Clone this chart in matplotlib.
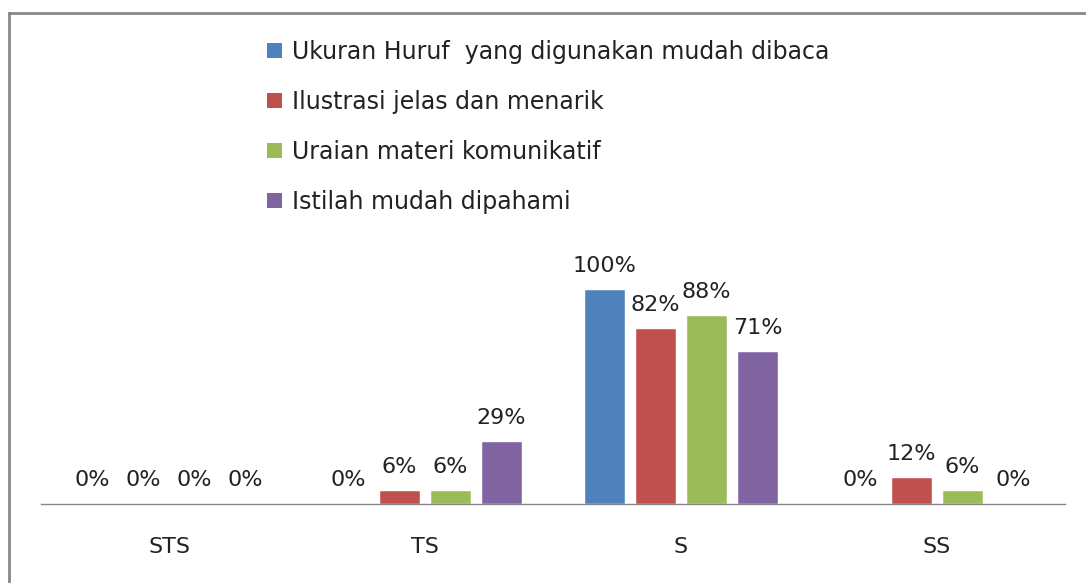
import matplotlib
matplotlib.use("Agg")
import matplotlib.pyplot as plt
from matplotlib.lines import Line2D
from matplotlib.patches import Patch
import numpy as np

categories = ["STS", "TS", "S", "SS"]
series_names = [
    "Ukuran Huruf  yang digunakan mudah dibaca",
    "Ilustrasi jelas dan menarik",
    "Uraian materi komunikatif",
    "Istilah mudah dipahami",
]
ukuran = [0, 0, 100, 0]
ilustrasi = [0, 6, 82, 12]
uraian = [0, 6, 88, 6]
istilah = [0, 29, 71, 0]
all_series = [ukuran, ilustrasi, uraian, istilah]
colors = ["#4F81BD", "#C0504D", "#9BBB59", "#8064A2"]

plt.rcParams['font.family'] = ['DejaVu Sans']
W, H = 1086, 583
fig = plt.figure(figsize=(W / 100, H / 100), dpi=100)

x0, x1 = 41, 1065
y_base, y_top = 504, 504 - 1.2 * 214
ax = fig.add_axes([x0 / W, 1 - y_base / H, (x1 - x0) / W, (y_base - y_top) / H])
ax.set_xlim(-0.5, 3.5)
ax.set_ylim(0, 120)

x = np.arange(len(categories))
step = 51 / 256
bw = 40 / 256
for i, (vals, c) in enumerate(zip(all_series, colors)):
    pos = x + (i - 1.5) * step
    ax.bar(pos, vals, width=bw, color=c, edgecolor="white", linewidth=0.3)
    for px, v in zip(pos, vals):
        ax.annotate(f"{v}%", (px, v), xytext=(0, 18), textcoords="offset pixels",
                    ha="center", va="baseline", fontsize=16, color="#222222")

for s in ["top", "right", "left"]:
    ax.spines[s].set_visible(False)
ax.spines["bottom"].set_color("#888888")
ax.spines["bottom"].set_linewidth(1.0)
ax.set_yticks([])
ax.set_xticks(x)
ax.set_xticklabels(categories, fontsize=16, color="#222222")
ax.tick_params(axis="x", length=0, pad=24)

handles = [Patch(facecolor=c, edgecolor="none") for c in colors]
fig.legend(handles, series_names, loc="upper left", bbox_to_anchor=(267 / W, 1 - 40 / H),
           frameon=False, fontsize=17, handlelength=0.62, handleheight=0.62,
           handletextpad=0.45, labelspacing=1.1, borderaxespad=0, borderpad=0,
           labelcolor="#222222")

# outer chart border (left and top edges visible)
fig.add_artist(Line2D([9 / W, 9 / W], [0, 1 - 13 / H], transform=fig.transFigure,
                      color="#888888", linewidth=2))
fig.add_artist(Line2D([9 / W, 1], [1 - 13 / H, 1 - 13 / H], transform=fig.transFigure,
                      color="#888888", linewidth=2))

fig.savefig("out.png", dpi=100, facecolor="white")
